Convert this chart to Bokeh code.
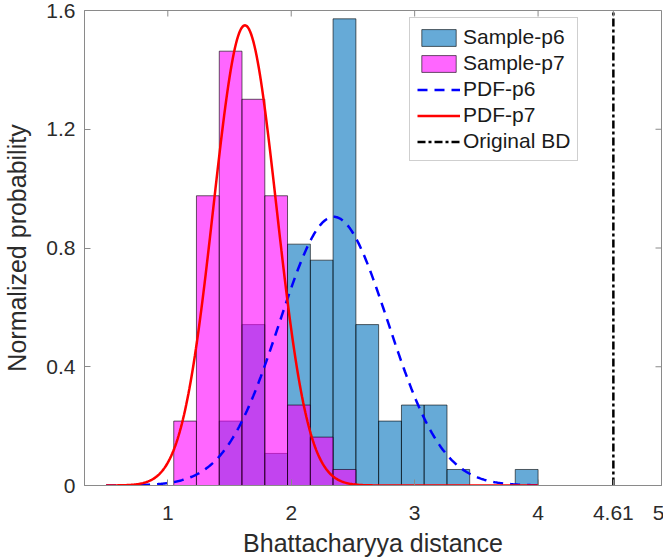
import numpy as np
from bokeh.plotting import figure
from bokeh.models import Range1d, FixedTicker, Legend, LegendItem, ColumnDataSource
from bokeh.embed import file_html
from bokeh.resources import INLINE

# ---- data ----
bin_edges = [1.048, 1.232, 1.417, 1.601, 1.786, 1.970, 2.155, 2.339, 2.524,
             2.708, 2.893, 3.077, 3.262, 3.446, 3.631, 3.815, 4.000]
p6_density = [0.0, 0.0, 0.217, 0.542, 0.108, 0.813, 0.759, 1.572,
              0.542, 0.217, 0.271, 0.271, 0.054, 0.0, 0.0, 0.054]
p7_density = [0.217, 0.976, 1.463, 1.301, 0.976, 0.271, 0.163, 0.054,
              0.0, 0.0, 0.0, 0.0, 0.0, 0.0, 0.0, 0.0]

# fitted normal curves (peak height, mean, std)
pdf_p6 = dict(peak=0.905, mu=2.345, sigma=0.44)
pdf_p7 = dict(peak=1.55, mu=1.625, sigma=0.255)
pdf_x_range = (0.5, 4.0)

original_bd = 4.61

x_lim = (0.325, 5.0)
y_lim = (0.0, 1.6)
x_ticks = [1, 2, 3, 4, 4.61, 5]
x_tick_labels = ["1", "2", "3", "4", "4.61", "5"]
y_ticks = [0, 0.4, 0.8, 1.2, 1.6]
y_tick_labels = ["0", "0.4", "0.8", "1.2", "1.6"]

FONT = "Liberation Sans"
AX = "#8a8a8a"
TXT = "#2b2b2b"
FW, FH = 577, 475
TICK_PX = 6

def bars(dens):
    left, right, top = [], [], []
    for i, d in enumerate(dens):
        if d > 0:
            left.append(bin_edges[i]); right.append(bin_edges[i + 1]); top.append(d)
    return ColumnDataSource(dict(left=left, right=right, top=top, bottom=[0] * len(top)))

def curve(par):
    xs = np.linspace(pdf_x_range[0], pdf_x_range[1], 400)
    ys = par["peak"] * np.exp(-(xs - par["mu"]) ** 2 / (2 * par["sigma"] ** 2))
    return xs, ys

p = figure(frame_width=FW, frame_height=FH, output_backend="svg", toolbar_location=None,
           x_range=Range1d(*x_lim), y_range=Range1d(*y_lim),
           min_border_left=83, min_border_right=3, min_border_top=10, min_border_bottom=73)
p.xgrid.visible = False
p.ygrid.visible = False
p.outline_line_color = AX
p.outline_line_width = 1
p.background_fill_color = "white"
p.border_fill_color = "white"

r6 = p.quad(left="left", right="right", top="top", bottom="bottom", source=bars(p6_density),
            fill_color="#0072BD", fill_alpha=0.6, line_color="black", line_alpha=0.6, line_width=1)
r7 = p.quad(left="left", right="right", top="top", bottom="bottom", source=bars(p7_density),
            fill_color="#FF00FF", fill_alpha=0.6, line_color="black", line_alpha=0.6, line_width=1)

x6, y6 = curve(pdf_p6)
x7, y7 = curve(pdf_p7)
l6 = p.line(x6, y6, line_color="#0000FF", line_width=2.5, line_dash="10 7")
l7 = p.line(x7, y7, line_color="#FF0000", line_width=2.5)
lb = p.line([original_bd, original_bd], list(y_lim), line_color="black", line_width=2.5,
            line_dash="8 3 3 3")

# mirrored inward ticks on the top and right edges of the box (MATLAB "box on")
dx = (x_lim[1] - x_lim[0]) / FW * TICK_PX
dy = (y_lim[1] - y_lim[0]) / FH * TICK_PX
p.segment(x0=x_ticks, y0=[y_lim[1]] * len(x_ticks), x1=x_ticks,
          y1=[y_lim[1] - dy] * len(x_ticks), line_color=AX, line_width=1)
p.segment(x0=[x_lim[1]] * len(y_ticks), y0=y_ticks, x1=[x_lim[1] - dx] * len(y_ticks),
          y1=y_ticks, line_color=AX, line_width=1)

# axes styling
for ax in (p.xaxis[0], p.yaxis[0]):
    ax.axis_line_color = AX
    ax.major_tick_line_color = AX
    ax.major_tick_in = TICK_PX
    ax.major_tick_out = 0
    ax.minor_tick_line_color = None
    ax.major_label_text_font = FONT
    ax.major_label_text_font_size = "21px"
    ax.major_label_text_color = TXT
    ax.axis_label_text_font = FONT
    ax.axis_label_text_font_size = "25px"
    ax.axis_label_text_font_style = "normal"
    ax.axis_label_text_color = TXT

p.xaxis[0].ticker = FixedTicker(ticks=x_ticks)
p.xaxis[0].major_label_overrides = {float(v): s for v, s in zip(x_ticks, x_tick_labels)}
p.yaxis[0].ticker = FixedTicker(ticks=y_ticks)
p.yaxis[0].major_label_overrides = {float(v): s for v, s in zip(y_ticks, y_tick_labels)}
p.xaxis[0].axis_label = "Bhattacharyya distance"
p.yaxis[0].axis_label = "Normalized probability"
p.xaxis[0].major_label_standoff = 20
p.xaxis[0].axis_label_standoff = 6
p.yaxis[0].major_label_standoff = 9
p.yaxis[0].axis_label_standoff = 12

legend = Legend(items=[
    LegendItem(label="Sample-p6", renderers=[r6]),
    LegendItem(label="Sample-p7", renderers=[r7]),
    LegendItem(label="PDF-p6", renderers=[l6]),
    LegendItem(label="PDF-p7", renderers=[l7]),
    LegendItem(label="Original BD", renderers=[lb]),
], location=(325, 324))
legend.label_text_font = FONT
legend.label_text_font_size = "21px"
legend.label_text_color = "#1a1a1a"
legend.glyph_width = 43
legend.glyph_height = 21
legend.label_height = 21
legend.label_standoff = 3
legend.spacing = 2
legend.padding = 7
legend.border_line_color = "#a0a0a0"
legend.border_line_width = 1
legend.background_fill_alpha = 1.0
legend.margin = 0
p.add_layout(legend, "center")

open("out.html", "w").write(file_html(p, INLINE))
